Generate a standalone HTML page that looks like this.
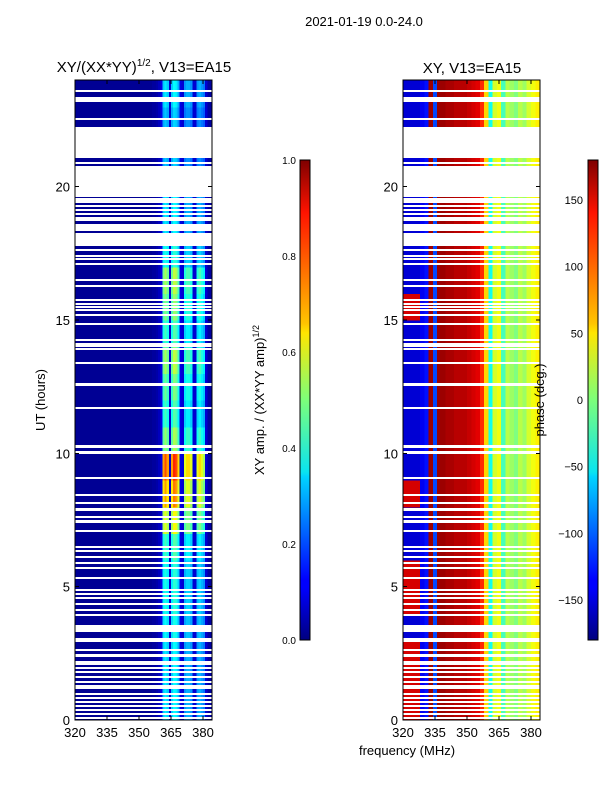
<!DOCTYPE html>
<html><head><meta charset="utf-8">
<style>
body{margin:0;background:#fff;width:600px;height:800px;overflow:hidden;font-family:"Liberation Sans","DejaVu Sans",sans-serif}
svg text{font-family:"Liberation Sans","DejaVu Sans",sans-serif}
</style></head>
<body>
<svg id="fig" width="600" height="800" xmlns="http://www.w3.org/2000/svg" shape-rendering="crispEdges">
<rect width="600" height="800" fill="#fff"/>
<text x="364" y="26" font-size="13" text-anchor="middle">2021-01-19 0.0-24.0</text>
<text x="144" y="72" font-size="15" text-anchor="middle">XY/(XX*YY)<tspan font-size="10" dy="-6">1/2</tspan><tspan dy="6">, V13=EA15</tspan></text>
<text x="472" y="73" font-size="15" text-anchor="middle">XY, V13=EA15</text>
<g id="ampPanel"></g>
<g id="phPanel"></g>
<g id="axes"></g>
<text transform="translate(45,400) rotate(-90)" font-size="13" text-anchor="middle">UT (hours)</text>
<text x="407" y="755" font-size="13" text-anchor="middle">frequency (MHz)</text>
<text transform="translate(264,400) rotate(-90)" font-size="13" text-anchor="middle">XY amp. / (XX*YY amp)<tspan font-size="9" dy="-5">1/2</tspan></text>
<text transform="translate(544,400) rotate(-90)" font-size="13" text-anchor="middle">phase (deg.)</text>
<defs>
<linearGradient id="jet" x1="0" y1="1" x2="0" y2="0">
<stop offset="0" stop-color="#00007f"/><stop offset="0.11" stop-color="#0000ff"/><stop offset="0.125" stop-color="#0000ff"/>
<stop offset="0.34" stop-color="#00d4ff"/><stop offset="0.35" stop-color="#0ae4f0"/><stop offset="0.5" stop-color="#7cff7a"/>
<stop offset="0.64" stop-color="#ffe600"/><stop offset="0.66" stop-color="#ffc400"/><stop offset="0.89" stop-color="#ff1300"/><stop offset="1" stop-color="#7f0000"/>
</linearGradient>
</defs>
<rect x="300" y="160" width="10" height="480" fill="url(#jet)" stroke="#000" stroke-width="1"/>
<rect x="588" y="160" width="10" height="480" fill="url(#jet)" stroke="#000" stroke-width="1"/>
</svg>
<script>
// ---- data ----
const freqStart = 320; // MHz, 1 MHz bins
const ampProfile = [0.02,0.02,0.02,0.02,0.02,0.02,0.02,0.02,0.02,0.02,0.02,0.02,0.02,0.02,0.02,0.02,0.02,0.02,0.02,0.02,
0.02,0.02,0.02,0.02,0.02,0.02,0.02,0.02,0.02,0.02,0.02,0.02,0.02,0.02,0.02,0.02,0.03,0.03,0.04,0.06,
0.1,0.36,0.4,0.36,0.08,0.36,0.42,0.4,0.33,0.1,0.08,0.3,0.33,0.33,0.3,0.08,0.08,0.3,0.33,0.3,0.27,0.08,0.03,0.03];
const ampHourScale = [0.9,0.9,0.9,0.95,1.0,1.0,1.1,1.5,1.8,2.0,1.3,1.1,1.2,1.35,1.1,1.25,1.35,1.0,0.9,0.9,0.8,0.8,0.8,0.9];
const phaseProfile = [-150,-150,-140,-150,-140,-130,170,-110,170,170,165,165,160,160,160,155,150,145,120,60,-40,30,40,-20,20,10,0,20,10,30,40,50]; // 2 MHz bins
const phaseLeftByHour = [150,150,150,-150,150,150,-150,-150,150,-150,-150,-150,-150,-150,-150,150,-150,-150,-150,-150,-150,-150,-150,-150];
const gaps = [[23.55,23.63],[23.17,23.36],[22.5,22.58],[21.08,22.24],[20.89,20.93],[19.61,20.78],[19.39,19.58],[19.25,19.3],[19.1,19.15],[18.99,19.03],[18.84,18.88],[18.73,18.77],[18.34,18.6],[17.78,18.26],[17.63,17.68],[17.38,17.42],[17.27,17.31],[17.06,17.14],[16.48,16.52],[16.26,16.3],[15.73,15.77],[15.58,15.62],[15.47,15.51],[15.39,15.43],[15.2,15.24],[14.83,14.87],[14.21,14.29],[13.99,14.14],[13.91,13.95],[13.39,13.43],[12.52,12.64],[11.68,11.72],[10.2,10.31],[9.98,10.09],[9.06,9.1],[8.42,8.46],[8.12,8.16],[7.84,7.95],[7.6,7.64],[7.39,7.5],[7.05,7.13],[6.47,6.51],[6.32,6.36],[6.1,6.14],[5.87,5.91],[5.66,5.74],[5.34,5.38],[4.86,4.9],[4.74,4.78],[4.56,4.6],[4.33,4.37],[4.11,4.15],[3.92,3.96],[3.3,3.56],[2.93,3.07],[2.64,2.68],[2.36,2.47],[2.16,2.2],[2.08,2.12],[1.93,1.97],[1.78,1.82],[1.6,1.64],[1.44,1.48],[1.29,1.33],[1.18,1.22],[0.99,1.03],[0.84,0.88],[0.69,0.73],[0.54,0.58],[0.39,0.43],[0.24,0.28],[0.09,0.13]];
const xTicks = [320,335,350,365,380];
const yTicks = [0,5,10,15,20];
const ampCbTicks = [0.0,0.2,0.4,0.6,0.8,1.0];
const phCbTicks = [-150,-100,-50,0,50,100,150];

// ---- scales ----
const NS='http://www.w3.org/2000/svg';
const Y0=720,Y1=80,HMAX=24;
const yS=h=>Y0-(h/HMAX)*(Y0-Y1);
const pxPerMHz=128/60;
const xS=(f,left)=>left+(f-320)*pxPerMHz;
function jet(v){v=Math.max(0,Math.min(1,v));
 const r=Math.max(0,Math.min(1,1.5-Math.abs(4*v-3))),g=Math.max(0,Math.min(1,1.5-Math.abs(4*v-2))),b=Math.max(0,Math.min(1,1.5-Math.abs(4*v-1)));
 return `rgb(${Math.round(r*255)},${Math.round(g*255)},${Math.round(b*255)})`;}
function mk(tag,a,p){const e=document.createElementNS(NS,tag);for(const k in a)e.setAttribute(k,a[k]);p.appendChild(e);return e;}
const rowStep=0.25;
// amplitude panel
const amp=document.getElementById('ampPanel');
for(let h=0;h<HMAX;h+=rowStep){
 const sc=ampHourScale[Math.floor(h)];
 for(let i=0;i<ampProfile.length;i++){
  let v=ampProfile[i]; if(v>0.2) v=Math.min(1,v*sc);
  const x=xS(freqStart+i,75);
  const r=mk('rect',{x:x,y:yS(h+rowStep),width:pxPerMHz+0.6,height:yS(h)-yS(h+rowStep)+0.6,fill:jet(v)},amp);
  
  
 }
}
// phase panel
const ph=document.getElementById('phPanel');
for(let h=0;h<HMAX;h+=rowStep){
 for(let i=0;i<phaseProfile.length;i++){
  let p=phaseProfile[i]; if(i<4) p=phaseLeftByHour[Math.floor(h)];
  const x=xS(freqStart+2*i,403);
  const r=mk('rect',{x:x,y:yS(h+rowStep),width:2*pxPerMHz+0.6,height:yS(h)-yS(h+rowStep)+0.6,fill:jet((p+180)/360)},ph);
  
  
 }
}
// gaps
for(const [left,g] of [[75,amp],[403,ph]]){
 for(const [a,b] of gaps){
  const y=Math.round(yS(b)), hgt=Math.max(2,Math.round(yS(a)-yS(b)));
  const r=mk('rect',{x:left,y:y,width:137,height:hgt,fill:'#fff'},g);
  
  
 }
}
// axes
const ax=document.getElementById('axes');
for(const left of [75,403]){
 const fr=mk('rect',{x:left,y:80,width:137,height:640,fill:'none',stroke:'#000','stroke-width':1},ax);
 
 
 for(const t of xTicks){const x=xS(t,left);
  mk('line',{x1:x,x2:x,y1:720,y2:716,stroke:'#000'},ax);mk('line',{x1:x,x2:x,y1:80,y2:84,stroke:'#000'},ax);
  const tx=mk('text',{x:x,y:737,'font-size':13,'text-anchor':'middle'},ax);tx.textContent=t;
  
  }
 for(const t of yTicks){const y=yS(t);
  mk('line',{x1:left,x2:left+4,y1:y,y2:y,stroke:'#000'},ax);mk('line',{x1:left+137,x2:left+133,y1:y,y2:y,stroke:'#000'},ax);
  const tx=mk('text',{x:left-5,y:y+5,'font-size':13,'text-anchor':'end'},ax);tx.textContent=t;
  
  }
}
for(const t of ampCbTicks){const y=640-t*480;
 mk('line',{x1:300,x2:303,y1:y,y2:y,stroke:'#000'},ax);mk('line',{x1:310,x2:307,y1:y,y2:y,stroke:'#000'},ax);
 const tx=mk('text',{x:296,y:y+4,'font-size':10,'text-anchor':'end'},ax);tx.textContent=t.toFixed(1);
 
 }
for(const t of phCbTicks){const y=400-t*480/360;
 mk('line',{x1:588,x2:591,y1:y,y2:y,stroke:'#000'},ax);mk('line',{x1:598,x2:595,y1:y,y2:y,stroke:'#000'},ax);
 const tx=mk('text',{x:583,y:y+4,'font-size':11,'text-anchor':'end'},ax);tx.textContent=t<0?'\u2212'+(-t):t;
 
 }
</script>
</body></html>
